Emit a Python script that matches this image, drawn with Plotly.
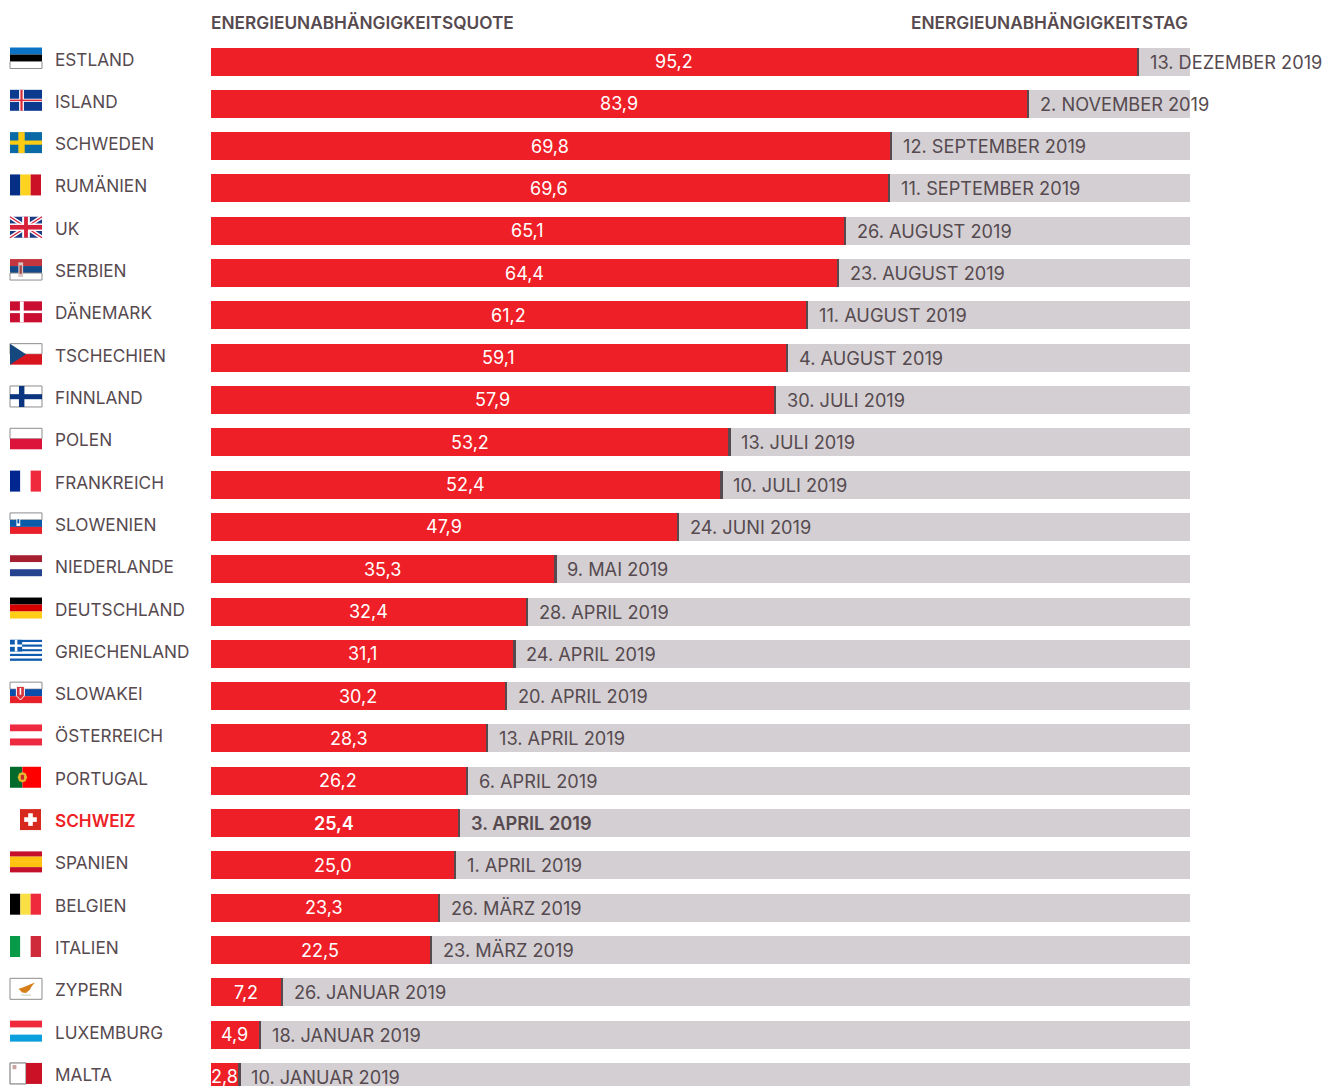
import plotly.graph_objects as go

countries = ["ESTLAND","ISLAND","SCHWEDEN","RUMÄNIEN","UK","SERBIEN","DÄNEMARK","TSCHECHIEN","FINNLAND","POLEN",
             "FRANKREICH","SLOWENIEN","NIEDERLANDE","DEUTSCHLAND","GRIECHENLAND","SLOWAKEI","ÖSTERREICH","PORTUGAL",
             "SCHWEIZ","SPANIEN","BELGIEN","ITALIEN","ZYPERN","LUXEMBURG","MALTA"]
quota = [95.2,83.9,69.8,69.6,65.1,64.4,61.2,59.1,57.9,53.2,52.4,47.9,35.3,32.4,31.1,30.2,28.3,26.2,25.4,25.0,23.3,22.5,7.2,4.9,2.8]
dates = ["13. DEZEMBER 2019","2. NOVEMBER 2019","12. SEPTEMBER 2019","11. SEPTEMBER 2019","26. AUGUST 2019","23. AUGUST 2019",
         "11. AUGUST 2019","4. AUGUST 2019","30. JULI 2019","13. JULI 2019","10. JULI 2019","24. JUNI 2019","9. MAI 2019",
         "28. APRIL 2019","24. APRIL 2019","20. APRIL 2019","13. APRIL 2019","6. APRIL 2019","3. APRIL 2019","1. APRIL 2019",
         "26. MÄRZ 2019","23. MÄRZ 2019","26. JANUAR 2019","18. JANUAR 2019","10. JANUAR 2019"]
highlight = "SCHWEIZ"
header_left = "ENERGIEUNABHÄNGIGKEITSQUOTE"
header_right = "ENERGIEUNABHÄNGIGKEITSTAG"

RED = "#ee1f27"; GREY = "#d3cfd3"; DARK = "#564a4f"; FONT = "Inter"
W, H = 1330, 1086
ML, MR = 211, 140
PW = W - ML - MR
PITCH = 42.31
TOP_CENTER = 61.5
XMAX = 100.7
SEP = 0.24
rows = list(range(len(countries)))
shapes = []

def fx(px): return (px - ML) / PW
FLAG_L, FLAG_W, FLAG_H = 10, 32, 21

def mapxy(r, u, v, left, width):
    return fx(left + u * width), r - 14 / PITCH + v * FLAG_H / PITCH

def poly(r, pts, color, left=FLAG_L, width=FLAG_W, line=None):
    p = []
    for i, (u, v) in enumerate(pts):
        x, y = mapxy(r, u, v, left, width)
        p.append(("M" if i == 0 else "L") + f"{x:.5f},{y:.5f}")
    shapes.append(dict(type="path", path=" ".join(p) + " Z", xref="paper", yref="y", layer="above",
                       fillcolor=color, line=dict(color=line or color, width=1 if line else 0)))

def rect(r, u0, v0, u1, v1, color, left=FLAG_L, width=FLAG_W, line=None):
    poly(r, [(u0, v0), (u1, v0), (u1, v1), (u0, v1)], color, left, width, line)

def seg(r, u0, v0, u1, v1, color, lw):
    x0, y0 = mapxy(r, u0, v0, FLAG_L, FLAG_W); x1, y1 = mapxy(r, u1, v1, FLAG_L, FLAG_W)
    shapes.append(dict(type="line", x0=x0, y0=y0, x1=x1, y1=y1, xref="paper", yref="y", layer="above",
                       line=dict(color=color, width=lw)))

def hstripes(r, cols, outline=None):
    for i, c in enumerate(cols):
        line = "#8d8d8d" if c == "#ffffff" and outline else None
        rect(r, 0, i / len(cols), 1, (i + 1) / len(cols), c, line=line)

def vstripes(r, cols):
    for i, c in enumerate(cols):
        rect(r, i / 3, 0, (i + 1) / 3, 1, c, width=31)

def cross(r, bg, c1, t1, c2=None, t2=0, cu=0.36):
    rect(r, 0, 0, 1, 1, bg)
    rect(r, cu - t1 / 2, 0, cu + t1 / 2, 1, c1)
    rect(r, 0, 0.5 - t1 * 0.5, 1, 0.5 + t1 * 0.5, c1)
    if c2:
        rect(r, cu - t2 / 2, 0, cu + t2 / 2, 1, c2)
        rect(r, 0, 0.5 - t2 * 0.5, 1, 0.5 + t2 * 0.5, c2)

WHITE = "#ffffff"
hstripes(0, ["#0b72c4", "#000000", WHITE], True)
cross(1, "#0b3a8f", WHITE, 0.15, "#dc2c3c", 0.07)
cross(2, "#0a6aa6", "#fecb13", 0.2)
vstripes(3, ["#042f85", "#fdd31f", "#cb1126"])
# UK
rect(4, 0, 0, 1, 1, "#1c3b86")
seg(4, 0, 0, 1, 1, WHITE, 4); seg(4, 0, 1, 1, 0, WHITE, 4)
seg(4, 0, 0, 1, 1, "#d8203a", 1.3); seg(4, 0, 1, 1, 0, "#d8203a", 1.3)
rect(4, 0.38, 0, 0.62, 1, WHITE); rect(4, 0, 0.32, 1, 0.68, WHITE)
rect(4, 0.44, 0, 0.56, 1, "#d8203a"); rect(4, 0, 0.39, 1, 0.61, "#d8203a")
hstripes(5, ["#c4363f", "#154a88", WHITE], True)
rect(5, 0.26, 0.16, 0.41, 0.85, "#d9c6c4"); rect(5, 0.3, 0.3, 0.37, 0.7, "#a8423f")
cross(6, "#ca0e31", WHITE, 0.12, cu=0.37)
# Czechia
rect(7, 0, 0, 1, 0.5, WHITE, line="#8d8d8d"); rect(7, 0, 0.5, 1, 1, "#d8151e")
poly(7, [(0, 0), (0.5, 0.5), (0, 1)], "#15487f")
rect(8, 0, 0, 1, 1, WHITE, line="#8d8d8d")
rect(8, 0.28, 0, 0.45, 1, "#0b3580"); rect(8, 0, 0.39, 1, 0.63, "#0b3580")
hstripes(9, [WHITE, "#dc143c"], True)
vstripes(10, ["#00268f", WHITE, "#ee2a3c"])
hstripes(11, [WHITE, "#0a5ba8", "#e8202a"], True)
rect(11, 0.2, 0.16, 0.32, 0.62, WHITE); rect(11, 0.23, 0.3, 0.29, 0.5, "#0a5ba8")
hstripes(12, ["#a51f30", WHITE, "#25438f"])
hstripes(13, ["#000000", "#d40000", "#ffcf17"])
# Greece
for i in range(9):
    rect(14, 0, i / 9, 1, (i + 1) / 9, "#0f5bb0" if i % 2 == 0 else WHITE)
rect(14, 0, 0, 0.38, 5 / 9, "#0f5bb0")
rect(14, 0.15, 0, 0.23, 5 / 9, WHITE); rect(14, 0, 2 / 9, 0.38, 3 / 9, WHITE)
hstripes(15, [WHITE, "#0c4eaa", "#e8202a"], True)
poly(15, [(0.2, 0.2), (0.45, 0.2), (0.45, 0.65), (0.33, 0.85), (0.2, 0.65)], "#d8353c", line=WHITE)
rect(15, 0.3, 0.28, 0.35, 0.6, WHITE)
hstripes(16, ["#ed2a3f", WHITE, "#ed2a3f"])
# Portugal
rect(17, 0, 0, 0.4, 1, "#036a2b", width=31); rect(17, 0.4, 0, 1, 1, "#fe0000", width=31)
poly(17, [(0.29, 0.32), (0.4, 0.25), (0.51, 0.32), (0.55, 0.5), (0.51, 0.68), (0.4, 0.75), (0.29, 0.68), (0.25, 0.5)],
     "#e6b52e", width=31)
rect(17, 0.35, 0.39, 0.45, 0.61, "#c7242c", width=31)
# Switzerland
sl, sw = 20, 21
rect(18, 0, 0, 1, 1, "#d8291e", left=sl, width=sw)
rect(18, 0.39, 0.2, 0.61, 0.8, WHITE, left=sl, width=sw)
rect(18, 0.2, 0.39, 0.8, 0.61, WHITE, left=sl, width=sw)
hstripes(19, ["#c4102b", "#ffc20f", "#ffc20f", "#c4102b"])
vstripes(20, ["#000000", "#fadf45", "#ee2a3c"])
vstripes(21, ["#079a49", WHITE, "#cf2a3a"])
# Cyprus
rect(22, 0, 0, 1, 1, WHITE, line="#8d8d8d")
poly(22, [(0.27, 0.5), (0.42, 0.42), (0.62, 0.3), (0.78, 0.2), (0.68, 0.38), (0.62, 0.55), (0.5, 0.7), (0.38, 0.68)], "#d67f1a")
seg(22, 0.35, 0.8, 0.65, 0.8, "#c4d0b8", 1)
hstripes(23, ["#ee2a3c", WHITE, "#0c9fdd"])
# Malta
rect(24, 0, 0, 0.5, 1, WHITE, line="#6f6f6f"); rect(24, 0.5, 0, 1, 1, "#cb1126")
rect(24, 0.08, 0.1, 0.2, 0.3, "#c9a3a3")

fig = go.Figure()
fig.add_bar(y=rows, x=quota, orientation="h", marker=dict(color=RED, line_width=0), name="Quote", hoverinfo="x+y")
fig.add_bar(y=rows, x=[SEP] * len(rows), orientation="h", marker=dict(color=DARK, line_width=0), hoverinfo="skip")
fig.add_bar(y=rows, x=[XMAX - q - SEP for q in quota], orientation="h", marker=dict(color=GREY, line_width=0), hoverinfo="skip")

ann = []
for r, name, q, d in zip(rows, countries, quota, dates):
    hi = name == highlight
    ann.append(dict(x=fx(54.5), xref="paper", y=r, yref="y", yshift=2.5, xanchor="left", yanchor="middle", showarrow=False,
                    text=name, font=dict(family=FONT, size=17.2, color=RED if hi else DARK, weight=600 if hi else 400)))
    ann.append(dict(x=q / 2, xref="x", y=r, yref="y", yshift=0, xanchor="center", yanchor="middle", showarrow=False,
                    text=f"{q:.1f}".replace(".", ","), font=dict(family=FONT, size=18, color="#ffffff", weight=600 if hi else 400)))
    ann.append(dict(x=q, xref="x", y=r, yref="y", xshift=13, yshift=0, xanchor="left", yanchor="middle", showarrow=False,
                    text=d, font=dict(family=FONT, size=18.2, color=DARK, weight=600 if hi else 400)))
ann.append(dict(x=fx(211), xref="paper", y=1 - 22.5 / H, yref="paper", xanchor="left", yanchor="middle", showarrow=False,
                text=header_left, font=dict(family=FONT, size=17.25, color=DARK, weight=600)))
ann.append(dict(x=fx(1188), xref="paper", y=1 - 22.5 / H, yref="paper", xanchor="right", yanchor="middle", showarrow=False,
                text=header_right, font=dict(family=FONT, size=17.25, color=DARK, weight=600)))
for a in ann:
    a["borderpad"] = 0; a["borderwidth"] = 0

fig.update_layout(
    width=W, height=H, barmode="stack", bargap=1 - 28 / PITCH, showlegend=False,
    margin=dict(l=ML, r=MR, t=0, b=0, pad=0), paper_bgcolor="#ffffff", plot_bgcolor="#ffffff",
    xaxis=dict(range=[0, XMAX], visible=False, fixedrange=True),
    yaxis=dict(range=[(H - TOP_CENTER) / PITCH, -TOP_CENTER / PITCH], visible=False, fixedrange=True),
    shapes=shapes, annotations=ann,
)
fig.write_html("out.html", config=dict(displayModeBar=False), post_script="document.body.style.margin='0';")
